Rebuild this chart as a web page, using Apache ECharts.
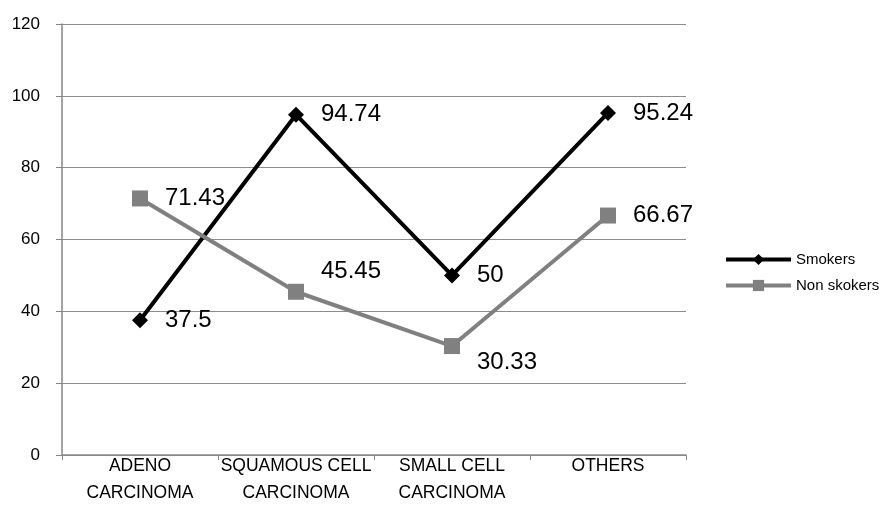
<!DOCTYPE html>
<html>
<head>
<meta charset="utf-8">
<script src="https://cdn.jsdelivr.net/npm/echarts@6/dist/echarts.min.js"></script>
<style>html,body{margin:0;padding:0;background:#fff;}#c{width:889px;height:525px;}</style>
</head>
<body>
<div id="c"></div>
<script>
const categories = ['ADENO\nCARCINOMA', 'SQUAMOUS CELL\nCARCINOMA', 'SMALL CELL\nCARCINOMA', 'OTHERS'];
const smokers = [37.5, 94.74, 50, 95.24];
const nonSmokers = [71.43, 45.45, 30.33, 66.67];
const seriesNames = ['Smokers', 'Non skokers'];
const nonSmokerLabelShift = [0, -20, 16, 0];

const chart = echarts.init(document.getElementById('c'));
const labelStyle = {
  show: true, position: 'right', distance: 17,
  color: '#000', fontFamily: 'Liberation Sans', fontSize: 24
};
chart.setOption({
  animation: false,
  backgroundColor: '#fff',
  grid: { left: 62, right: 203, top: 24, bottom: 70 },
  legend: {
    orient: 'vertical', left: 719, top: 247,
    itemWidth: 65, itemHeight: 14, itemGap: 11,
    textStyle: { fontFamily: 'Liberation Sans', fontSize: 15, color: '#000' },
    data: [
      { name: seriesNames[0], lineStyle: { width: 4, color: '#000' } },
      { name: seriesNames[1], lineStyle: { width: 4, color: '#808080' } }
    ]
  },
  xAxis: {
    type: 'category', data: categories, boundaryGap: true,
    axisLine: { lineStyle: { color: '#868686', width: 1.5 } },
    axisTick: { show: true, length: 5, alignWithLabel: false, lineStyle: { color: '#868686' } },
    axisLabel: { color: '#000', fontFamily: 'Liberation Sans', fontSize: 17.5, lineHeight: 27, margin: -2, interval: 0 }
  },
  yAxis: {
    type: 'value', min: 0, max: 120, interval: 20,
    axisLine: { show: true, lineStyle: { color: '#868686', width: 1.5 } },
    axisTick: { show: true, length: 6, lineStyle: { color: '#868686' } },
    splitLine: { lineStyle: { color: '#8c8c8c', width: 1 } },
    axisLabel: { color: '#000', fontFamily: 'Liberation Sans', fontSize: 17, margin: 22 }
  },
  series: [
    {
      name: seriesNames[0], type: 'line', data: smokers,
      symbol: 'diamond', symbolSize: 16,
      lineStyle: { color: '#000', width: 4 },
      itemStyle: { color: '#000' },
      label: labelStyle
    },
    {
      name: seriesNames[1], type: 'line',
      data: nonSmokers.map((v, i) => ({ value: v, label: { offset: [0, nonSmokerLabelShift[i]] } })),
      symbol: 'rect', symbolSize: 16,
      lineStyle: { color: '#808080', width: 4 },
      itemStyle: { color: '#808080' },
      label: labelStyle
    }
  ]
});
</script>
</body>
</html>
